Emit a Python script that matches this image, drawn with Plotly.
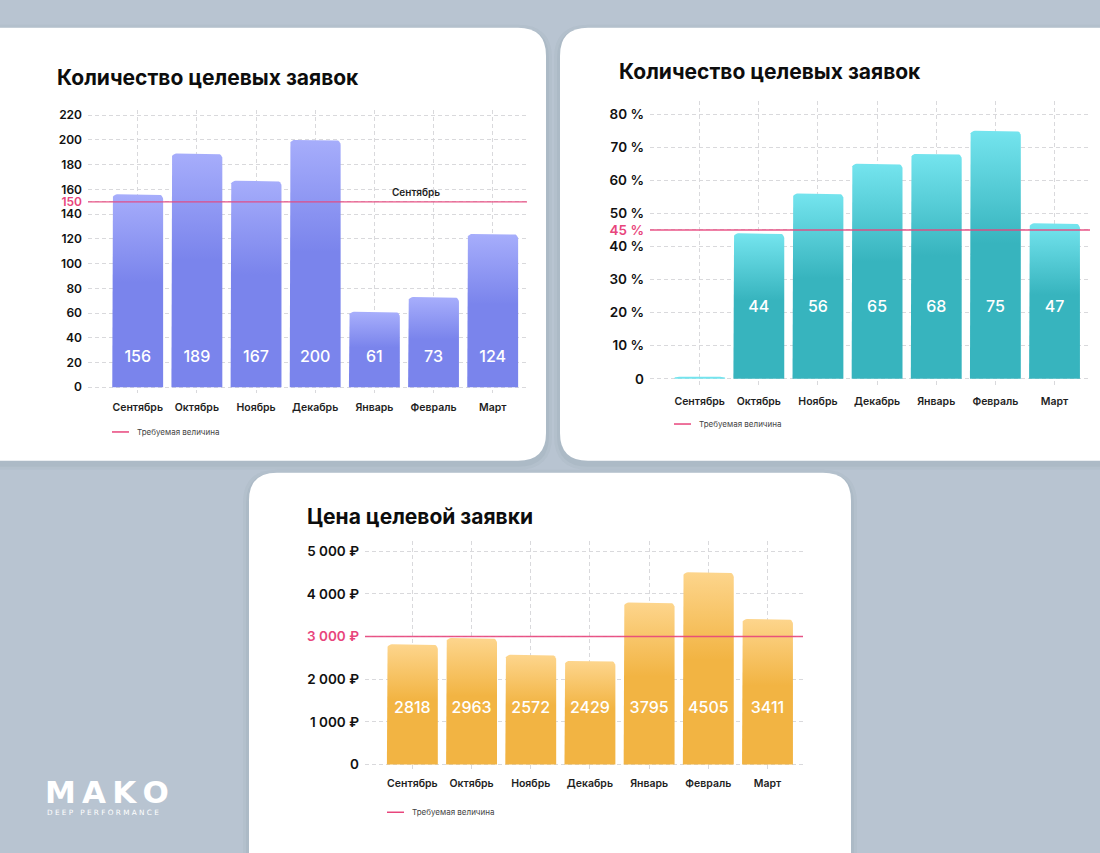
import plotly.graph_objects as go
import math

W, H = 1100, 853

# ---------------- data ----------------
months = ["Сентябрь", "Октябрь", "Ноябрь", "Декабрь", "Январь", "Февраль", "Март"]

leads = [156, 189, 167, 200, 61, 73, 124]
leads_target = 150
leads_ticks = [0, 20, 40, 60, 80, 100, 120, 140, 150, 160, 180, 200, 220]

share = [0, 44, 56, 65, 68, 75, 47]
share_target = 45
share_ticks = [0, 10, 20, 30, 40, 45, 50, 60, 70, 80]

price = [2818, 2963, 2572, 2429, 3795, 4505, 3411]
price_target = 3000
price_ticks = [0, 1000, 2000, 3000, 4000, 5000]

title_leads = "Количество целевых заявок"
title_share = "Количество целевых заявок"
title_price = "Цена целевой заявки"
legend_label = "Требуемая величина"
stray_label = "Сентябрь"

# ---------------- style ----------------
BG = "#b8c4d1"
PINK = "#e8457c"
GRID = "#d9d9dc"
FONT = "Inter"


def px(x):
    return x / W


def py(y):
    return 1 - y / H


def fmt_leads(v):
    return str(v)


def fmt_share(v):
    return "0" if v == 0 else f"{v} %"


def fmt_price(v):
    return "0" if v == 0 else f"{v // 1000} 000 ₽"


panels = [
    dict(values=leads, target=leads_target, ticks=leads_ticks, fmt=fmt_leads,
         title=title_leads, title_xy=(55, 75), tick_size=12,
         xpx=(88, 527), xr=(-0.84, 6.58), p0=387.0, k=(387.0 - 113.0) / 220.0, yr=(-5, 224),
         light="#a6adfb", dark="#7a84ec", label_y=23.5,
         legend_xy=(112, 432), labels=[str(v) for v in leads], minv=0),
    dict(values=share, target=share_target, ticks=share_ticks, fmt=fmt_share,
         title=title_share, title_xy=(617, 69), tick_size=13.5,
         xpx=(650, 1090), xr=(-0.84, 6.6), p0=378.5, k=(378.5 - 112.0) / 80.0, yr=(-2.7, 84),
         light="#74e4ee", dark="#37b4be", label_y=21.5,
         legend_xy=(674, 424), labels=["" if v == 0 else str(v) for v in share], minv=0.6),
    dict(values=price, target=price_target, ticks=price_ticks, fmt=fmt_price,
         title=title_price, title_xy=(305, 517), tick_size=13.5,
         xpx=(365, 803), xr=(-0.8, 6.6), p0=767.0, k=(767.0 - 552.0) / 5000.0, yr=(-120, 5230),
         light="#fdd58c", dark="#f2b443", label_y=1300,
         legend_xy=(387, 815), labels=[str(v) for v in price], minv=0),
]

fig = go.Figure()
shapes = []
annotations = []


def rrect(x0, y0, x1, y1, r):
    return (f"M {px(x0 + r)},{py(y0)} L {px(x1 - r)},{py(y0)} "
            f"Q {px(x1)},{py(y0)} {px(x1)},{py(y0 + r)} L {px(x1)},{py(y1 - r)} "
            f"Q {px(x1)},{py(y1)} {px(x1 - r)},{py(y1)} L {px(x0 + r)},{py(y1)} "
            f"Q {px(x0)},{py(y1)} {px(x0)},{py(y1 - r)} L {px(x0)},{py(y0 + r)} "
            f"Q {px(x0)},{py(y0)} {px(x0 + r)},{py(y0)} Z")


cards = [(-60, 25, 546, 461), (560, 25, 1160, 461), (249, 473, 851, 920)]
for (x0, y0, x1, y1) in cards:
    for g, a in [(6, 0.035), (3, 0.05)]:
        shapes.append(dict(type="path", path=rrect(x0 - g, y0 - g + 3, x1 + g, y1 + g + 3, 28 + g),
                           xref="paper", yref="paper", fillcolor=f"rgba(60,75,95,{a})",
                           line=dict(width=0), layer="below"))
    shapes.append(dict(type="path", path=rrect(x0, y0, x1, y1, 28), xref="paper", yref="paper",
                       fillcolor="white", line=dict(width=0), layer="below"))

for n, p in enumerate(panels, start=1):
    xa = "x" if n == 1 else f"x{n}"
    ya = "y" if n == 1 else f"y{n}"
    xr, yr = p["xr"], p["yr"]
    xpx0, xpx1 = p["xpx"]
    cat_px = (xpx1 - xpx0) / (xr[1] - xr[0])
    hw = 0.43
    rx = 5.0 / cat_px
    ry_u = 5.0 / p["k"]
    for i, v in enumerate(p["values"]):
        h = max(v, p["minv"])
        ry = min(ry_u, h / 2)
        xs, ys = [i - hw, i - hw], [0, h - ry]
        for t in range(1, 7):
            a = math.pi - t * (math.pi / 2) / 6
            xs.append(i - hw + rx + rx * math.cos(a))
            ys.append(h - ry + ry * math.sin(a))
        for t in range(0, 7):
            a = math.pi / 2 - t * (math.pi / 2) / 6
            xs.append(i + hw - rx + rx * math.cos(a))
            ys.append(h - ry + ry * math.sin(a))
        xs += [i + hw, i - hw]
        ys += [0, 0]
        fig.add_trace(go.Scatter(
            x=xs, y=ys, mode="lines", fill="toself", line=dict(width=0, color="rgba(0,0,0,0)"),
            fillgradient=dict(type="vertical", start=0, stop=h,
                              colorscale=[[0, p["dark"]], [0.55, p["dark"]], [1, p["light"]]]),
            xaxis=xa, yaxis=ya, showlegend=False, hoverinfo="skip"))
    fig.add_trace(go.Scatter(
        x=list(range(len(months))), y=[p["label_y"]] * len(months), mode="text",
        text=p["labels"], textfont=dict(family=FONT, size=16, color="white", weight=500),
        xaxis=xa, yaxis=ya, showlegend=False, hoverinfo="skip"))

    ticktext = []
    for t in p["ticks"]:
        s = p["fmt"](t)
        if t == p["target"]:
            s = f'<span style="color:{PINK}">{s}</span>'
        ticktext.append(s)

    dom_y = [py(p["p0"] - yr[0] * p["k"]), py(p["p0"] - yr[1] * p["k"])]
    axis_common = dict(showgrid=True, gridcolor=GRID, griddash="4px,3px", gridwidth=1,
                       zeroline=False, showline=False, ticks="")
    fig.layout[f"xaxis{'' if n == 1 else n}"] = dict(
        domain=[px(xpx0), px(xpx1)], range=list(xr), anchor=ya,
        tickvals=list(range(len(months))), ticktext=months,
        tickfont=dict(family=FONT, size=10.5, color="#1e1e1e", weight=600),
        ticklabelstandoff=6, **axis_common)
    fig.layout[f"yaxis{'' if n == 1 else n}"] = dict(
        domain=dom_y, range=list(yr), anchor=xa,
        tickvals=p["ticks"], ticktext=ticktext,
        tickfont=dict(family=FONT, size=p["tick_size"], color="#111111", weight=600),
        ticklabelstandoff=5, **axis_common)

    # target line
    shapes.append(dict(type="line", xref=f"{xa} domain", yref=ya, x0=0, x1=1,
                       y0=p["target"], y1=p["target"], line=dict(color=PINK, width=1.3),
                       opacity=0.9, layer="above"))
    # title
    tx, ty = p["title_xy"]
    annotations.append(dict(text=p["title"], x=px(tx), y=py(ty), xref="paper", yref="paper",
                            xanchor="left", yanchor="middle", showarrow=False,
                            font=dict(family=FONT, size=21, color="#0d0d0d", weight=700)))
    # legend
    lx, ly = p["legend_xy"]
    shapes.append(dict(type="line", xref="paper", yref="paper", x0=px(lx), x1=px(lx + 17),
                       y0=py(ly), y1=py(ly), line=dict(color=PINK, width=1.5)))
    annotations.append(dict(text=legend_label, x=px(lx + 23), y=py(ly), xref="paper", yref="paper",
                            xanchor="left", yanchor="middle", showarrow=False,
                            font=dict(family=FONT, size=8, color="#444444")))

# stray label in first panel
annotations.append(dict(text=stray_label, x=4.7, y=158, xref="x", yref="y", showarrow=False,
                        font=dict(family=FONT, size=10, color="#1e1e1e", weight=600)))

# logo
annotations.append(dict(text="M\u2009A\u2009K\u2009O", x=px(43), y=py(795), xref="paper", yref="paper",
                        xanchor="left", yanchor="middle", showarrow=False,
                        font=dict(family="DejaVu Sans", size=31, color="white", weight=700)))
annotations.append(dict(text="D E E P   P E R F O R M A N C E",
                        x=px(45), y=py(815), xref="paper",
                        yref="paper", xanchor="left", yanchor="middle", showarrow=False,
                        font=dict(family="DejaVu Sans", size=7.3, color="white")))

fig.update_layout(
    width=W, height=H, margin=dict(l=0, r=0, t=0, b=0),
    paper_bgcolor=BG, plot_bgcolor="rgba(0,0,0,0)",
    shapes=shapes, annotations=annotations, showlegend=False,
)

fig.write_html("out.html")
